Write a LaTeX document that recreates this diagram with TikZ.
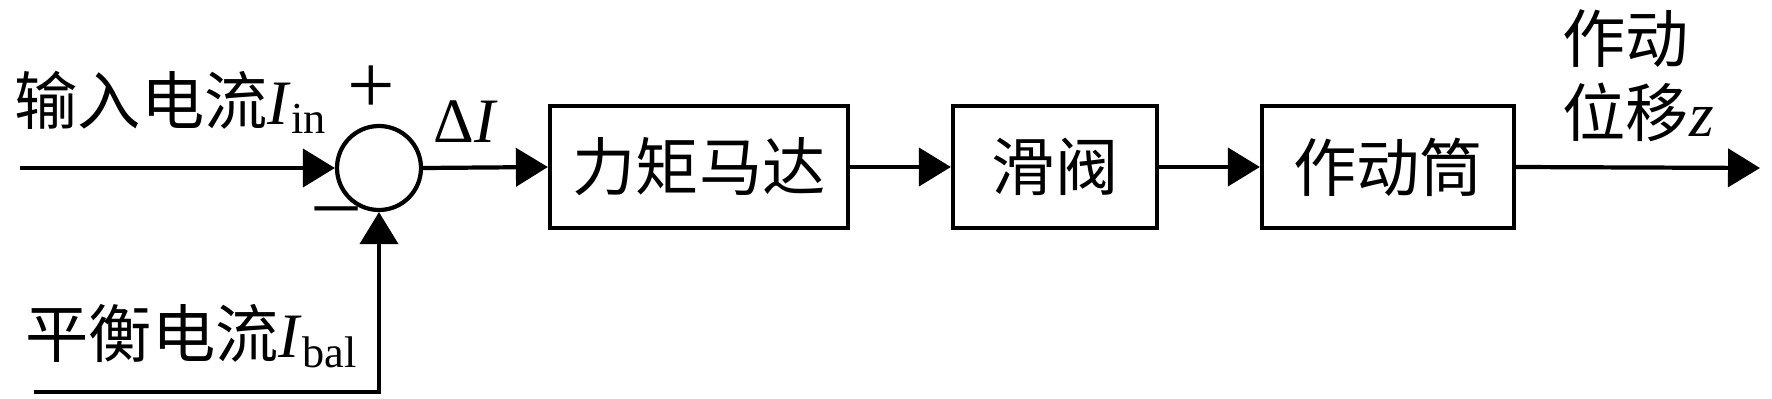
\documentclass[tikz,border=0pt]{standalone}
\usepackage{fontspec}
\setmainfont{Liberation Serif}
\newfontfamily\cjk{Noto Sans CJK SC}
\usetikzlibrary{arrows.meta}
\usetikzlibrary{positioning}
\newcommand{\bdfont}{\fontsize{18}{21}\selectfont}
\tikzset{
  bdblock/.style={
    draw, line width=1.2pt, minimum height=1.22cm, inner sep=0pt,
    font=\bdfont\cjk},
  bdsum/.style={
    draw, circle, line width=1.2pt, minimum size=0.84cm, inner sep=0pt},
  bdarrow/.style={-{Triangle[length=0.32cm, width=0.38cm]}, line width=1.2pt},
  bdlabel/.style={font=\bdfont, inner sep=0pt},
  bdsign/.style={font=\fontsize{24}{24}\selectfont, inner sep=0pt},
}

\begin{document}
\begin{tikzpicture}[x=1cm, y=1cm]
\useasboundingbox (0, 0) rectangle (17.72, 3.98);

% Forward path.
\coordinate (in) at (0.20, 2.30);
\node[bdsum] (sum) at (3.79, 2.30) {};
\node[bdblock, minimum width=2.98cm] (motor) at (6.99, 2.31) {力矩马达};
\node[bdblock, minimum width=2.04cm] (valve) at (10.55, 2.31) {滑阀};
\node[bdblock, minimum width=2.52cm] (piston) at (13.88, 2.31) {作动筒};
\coordinate (out) at (17.60, 2.30);

\draw[bdarrow] (in) -- (sum.west);
\draw[bdarrow] (sum.east) -- (motor.west);
\draw[bdarrow] (motor.east) -- (valve.west);
\draw[bdarrow] (valve.east) -- (piston.west);
\draw[bdarrow] (piston.east) -- (out);

% Balance current fed back from below.
\coordinate (bal) at (0.34, 0.06);
\draw[bdarrow] (bal) -| (sum.south);

% Labels.
\node[bdlabel, anchor=west] (inlab) at (0.14, 2.96)
  {{\cjk 输入电流}\textit{I}\textsubscript{in}};
\node[bdsign] (plus) at (3.71, 3.08) {+};
\node[bdsign] (minus) at (3.37, 1.80) {--};
\node[bdlabel] (dlab) at (4.66, 2.76) {Δ\textit{I}};
\node[bdlabel, anchor=west] (ballab) at (0.25, 0.62)
  {{\cjk 平衡电流}\textit{I}\textsubscript{bal}};
\node[bdlabel, anchor=west, align=left] (outlab) at (15.62, 3.22)
  {{\cjk 作动}\\{\cjk 位移}\textit{z}};

\end{tikzpicture}
\end{document}
